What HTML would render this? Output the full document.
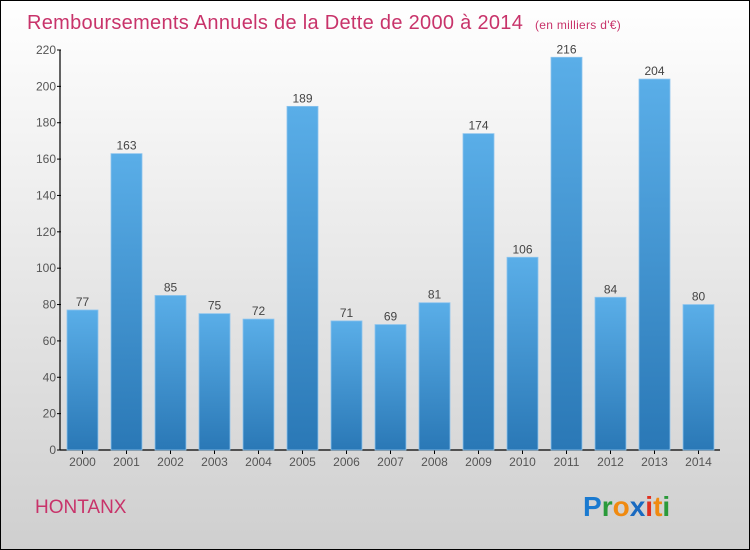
<!DOCTYPE html>
<html><head><meta charset="utf-8"><style>
body{margin:0}
#c{width:750px;height:550px;position:relative;overflow:hidden}
svg text{font-family:"Liberation Sans",sans-serif}
</style></head><body>
<div id="c">
<svg id="s" width="750" height="550">
<defs>
<linearGradient id="bg" x1="0" y1="0" x2="0" y2="1"><stop offset="0" stop-color="#ffffff"/><stop offset="1" stop-color="#cfcfcf"/></linearGradient>
<linearGradient id="bar" x1="0" y1="0" x2="0" y2="1"><stop offset="0" stop-color="#5aaee8"/><stop offset="1" stop-color="#2a78b6"/></linearGradient>
</defs>
<rect x="0.5" y="0.5" width="749" height="549" fill="url(#bg)" stroke="#000"/>
<text x="27" y="29" font-size="20" fill="#c8336a" letter-spacing="0.3">Remboursements Annuels de la Dette de 2000 à 2014 <tspan font-size="12" dx="6">(en milliers d'€)</tspan></text>
<text x="35" y="513" font-size="19" fill="#c8336a">HONTANX</text>
<g font-size="28" font-weight="bold">
<text x="583" y="516"><tspan fill="#1a7ad0">P</tspan><tspan fill="#2a9a3a">r</tspan><tspan fill="#f08a10">o</tspan><tspan fill="#1a6ac0">x</tspan><tspan fill="#e03020">i</tspan><tspan fill="#f08a10">t</tspan><tspan fill="#2a9a3a">i</tspan></text>
</g>
<g id="ax"></g>
<g id="bars"></g>
</svg>
</div>
<script>
const years=["2000","2001","2002","2003","2004","2005","2006","2007","2008","2009","2010","2011","2012","2013","2014"];
const values=[77,163,85,75,72,189,71,69,81,174,106,216,84,204,80];
const yTicks=[0,20,40,60,80,100,120,140,160,180,200,220];
const NS="http://www.w3.org/2000/svg";
const y0=450,yTop=50,ymax=220,x0=60;
function ys(v){return y0-(v/ymax)*(y0-yTop);}
function xs(i){return 67+i*44;}
function mk(t,a,p){const e=document.createElementNS(NS,t);for(const k in a)e.setAttribute(k,a[k]);p.appendChild(e);return e;}
const ax=document.getElementById('ax'),bars=document.getElementById('bars');
const yl=mk('line',{x1:x0,y1:y0,x2:x0,y2:yTop,stroke:'#000','stroke-width':1.2},ax);


const xl=mk('line',{x1:x0,y1:y0,x2:720,y2:y0,stroke:'#000','stroke-width':1.2},ax);


yTicks.forEach(v=>{
 const y=ys(v);
 mk('line',{x1:x0-3,y1:y,x2:x0+1,y2:y,stroke:'#000'},ax);
 const t=mk('text',{x:x0-4,y:y+4,'font-size':12,fill:'#555','text-anchor':'end'},ax);
 t.textContent=v;
 
 
});
values.forEach((v,i)=>{
 const x=xs(i),w=31,y=ys(v);
 const r=mk('rect',{x:x,y:y,width:w,height:y0-y,fill:'url(#bar)',stroke:'#8cc4ee','stroke-width':0.8},bars);
 
 
 const l=mk('text',{x:x+w/2,y:y-4,'font-size':12,fill:'#444','text-anchor':'middle'},bars);
 l.textContent=v;
 
 
 mk('line',{x1:x+w/2,y1:y0,x2:x+w/2,y2:y0+4,stroke:'#000'},ax);
 const xt=mk('text',{x:x+w/2,y:y0+16,'font-size':12,fill:'#555','text-anchor':'middle'},ax);
 xt.textContent=years[i];
 
 
});
</script>
</body></html>
